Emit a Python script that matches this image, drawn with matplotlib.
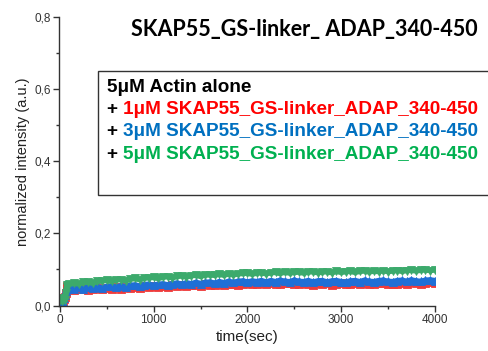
import numpy as np
import matplotlib
matplotlib.use("Agg")
import matplotlib.pyplot as plt
from matplotlib.patches import Rectangle
from matplotlib.text import Annotation

# ---- data -----------------------------------------------------------------
t_early = [0, 10, 20, 30, 40, 50, 60, 70, 80, 90]
t_main = np.arange(100, 4001, 50)

red_early = [0.010, 0.015, 0.020, 0.013, 0.018, 0.025, 0.034, 0.050, 0.055, 0.048]
blue_early = [0.006, 0.012, 0.016, 0.010, 0.022, 0.028, 0.040, 0.045, 0.047, 0.048]
green_early = [0.014, 0.018, 0.012, 0.016, 0.020, 0.015, 0.035, 0.052, 0.058, 0.057]

red_main = [
    0.046, 0.043, 0.045, 0.048, 0.044, 0.046, 0.048, 0.045, 0.049, 0.047,
    0.050, 0.047, 0.051, 0.048, 0.052, 0.049, 0.053, 0.050, 0.054, 0.051,
    0.055, 0.052, 0.056, 0.053, 0.057, 0.054, 0.056, 0.058, 0.055, 0.059,
    0.056, 0.058, 0.060, 0.057, 0.059, 0.061, 0.058, 0.060, 0.062, 0.059,
    0.059, 0.062, 0.059, 0.063, 0.061, 0.059, 0.062, 0.063, 0.059, 0.061,
    0.062, 0.059, 0.058, 0.062, 0.060, 0.062, 0.058, 0.060, 0.062, 0.059,
    0.060, 0.062, 0.059, 0.063, 0.061, 0.059, 0.062, 0.063, 0.061, 0.059,
    0.061, 0.063, 0.060, 0.064, 0.062, 0.060, 0.063, 0.064, 0.062,
]
blue_main = [
    0.048, 0.046, 0.050, 0.047, 0.051, 0.048, 0.052, 0.049, 0.053, 0.054,
    0.051, 0.055, 0.052, 0.056, 0.057, 0.054, 0.058, 0.059, 0.056, 0.059,
    0.060, 0.057, 0.061, 0.062, 0.059, 0.063, 0.060, 0.064, 0.061, 0.064,
    0.065, 0.062, 0.066, 0.063, 0.067, 0.064, 0.067, 0.068, 0.065, 0.068,
    0.066, 0.069, 0.065, 0.069, 0.066, 0.070, 0.067, 0.066, 0.070, 0.067,
    0.066, 0.069, 0.065, 0.068, 0.069, 0.065, 0.068, 0.069, 0.066, 0.065,
    0.068, 0.069, 0.066, 0.070, 0.067, 0.066, 0.069, 0.070, 0.067, 0.066,
    0.069, 0.070, 0.067, 0.071, 0.068, 0.067, 0.070, 0.071, 0.069,
]
green_main = [
    0.059, 0.062, 0.060, 0.064, 0.065, 0.062, 0.067, 0.068, 0.070, 0.067,
    0.071, 0.072, 0.069, 0.073, 0.075, 0.072, 0.076, 0.077, 0.078, 0.075,
    0.079, 0.080, 0.077, 0.081, 0.082, 0.079, 0.083, 0.084, 0.081, 0.085,
    0.085, 0.084, 0.087, 0.084, 0.088, 0.085, 0.088, 0.089, 0.090, 0.087,
    0.090, 0.091, 0.088, 0.091, 0.092, 0.089, 0.093, 0.090, 0.092, 0.093,
    0.090, 0.093, 0.094, 0.091, 0.093, 0.094, 0.091, 0.095, 0.092, 0.094,
    0.095, 0.092, 0.095, 0.096, 0.093, 0.096, 0.094, 0.097, 0.094, 0.096,
    0.097, 0.095, 0.097, 0.098, 0.096, 0.098, 0.099, 0.097, 0.099,
]

title = "SKAP55_GS-linker_ ADAP_340-450"
legend_head = "5\u03bcM Actin alone"
legend_rows = [
    ("1\u03bcM SKAP55_GS-linker_ADAP_340-450", "#ff0000"),
    ("3\u03bcM SKAP55_GS-linker_ADAP_340-450", "#0070c0"),
    ("5\u03bcM SKAP55_GS-linker_ADAP_340-450", "#00b050"),
]
y_ticks = [0.0, 0.2, 0.4, 0.6, 0.8]
x_ticks = [0, 1000, 2000, 3000, 4000]

series = [
    (red_early, red_main, "#ee3b3b", "s"),
    (blue_early, blue_main, "#1f6fd6", "^"),
    (green_early, green_main, "#3caa6c", "v"),
]

# ---- figure -----------------------------------------------------------------
plt.rcParams["font.family"] = ["Liberation Sans", "DejaVu Sans"]
fig = plt.figure(figsize=(4.88, 3.51), dpi=100)
ax = fig.add_axes([0.121, 0.1296, 0.770, 0.8211])

t_all = np.concatenate([t_early, t_main])
for early, main, col, mk in series:
    ax.plot(t_all, np.concatenate([early, main]), linestyle="-", linewidth=4,
            marker=mk, markersize=6, color=col, markeredgewidth=0.6,
            markeredgecolor=col)

ax.set_xlim(-10, 4000)
ax.set_ylim(0, 0.8)
ax.set_xticks(x_ticks)
ax.set_xticks(np.arange(500, 4000, 1000), minor=True)
ax.set_yticks(y_ticks)
ax.set_yticks([0.1, 0.3, 0.5, 0.7], minor=True)
ax.set_yticklabels([f"{v:.1f}".replace(".", ",") for v in y_ticks])
ax.set_xticklabels([str(v) for v in x_ticks])

for s in ("top", "right"):
    ax.spines[s].set_visible(False)
for s in ("left", "bottom"):
    ax.spines[s].set_color("#333333")
    ax.spines[s].set_linewidth(1.0)
ax.tick_params(which="major", direction="out", length=4, width=1.0,
               color="#333333", labelsize=8.5, labelcolor="#333333", pad=2)
ax.tick_params(which="minor", direction="out", length=2.5, width=1.0,
               color="#333333")

ax.set_xlabel("time(sec)", fontsize=11, color="#222222", labelpad=3)
ax.set_ylabel("normalized intensity (a.u.)", fontsize=10.5, color="#222222",
              labelpad=3)

fig.text(0.623, 0.915, title, fontsize=15.5, fontweight="bold",
         family=["Lato", "DejaVu Sans"], ha="center", va="center")

# legend box
box = Rectangle((98 / 488, 1 - 195 / 351), 400 / 488, 124 / 351,
                transform=fig.transFigure, facecolor="white",
                edgecolor="#333333", linewidth=1.0, clip_on=False, zorder=2)
fig.add_artist(box)

x0 = 107 / 488
ys = [88, 110, 132, 154]
fs = 13.6
fig.text(x0, 1 - ys[0] / 351, legend_head, fontsize=fs, fontweight="bold",
         ha="left", va="center", color="black", zorder=4)
for (txt, col), yp in zip(legend_rows, ys[1:]):
    plus = fig.text(x0, 1 - yp / 351, "+ ", fontsize=fs, fontweight="bold",
                    ha="left", va="center", color="black", zorder=4)
    label = Annotation(txt, xy=(1, 0), xycoords=plus, va="bottom", ha="left",
                       fontsize=fs, fontweight="bold", color=col,
                       annotation_clip=False, zorder=4)
    fig.add_artist(label)

fig.savefig("out.png", dpi=100, facecolor="white")
